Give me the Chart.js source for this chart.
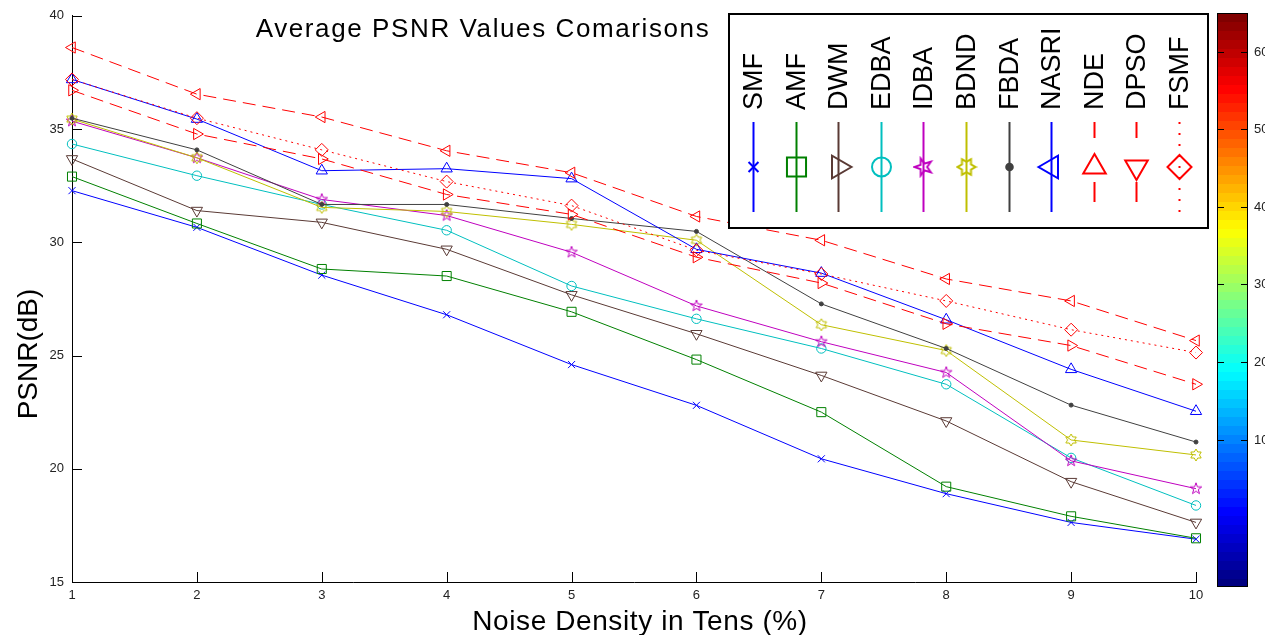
<!DOCTYPE html>
<html>
<head>
<meta charset="utf-8">
<script src="https://cdn.jsdelivr.net/npm/chart.js@4.4.1/dist/chart.umd.min.js"></script>
<style>
  html, body { margin: 0; padding: 0; background: #fff; }
</style>
</head>
<body>
<canvas id="psnr" width="1265" height="635"></canvas>
<script>
// Noise density steps (tens of %)
const densidades = ['1', '2', '3', '4', '5', '6', '7', '8', '9', '10'];
const ticksPSNR = [15, 20, 25, 30, 35, 40];
const ticksBarra = [10, 20, 30, 40, 50, 60];

// Average PSNR (dB) per filter
const smf   = [32.28, 30.66, 28.55, 26.80, 24.60, 22.80, 20.44, 18.90, 17.63, 16.89];
const amf   = [32.90, 30.83, 28.82, 28.51, 26.93, 24.82, 22.50, 19.21, 17.90, 16.93];
const dwm   = [33.68, 31.40, 30.88, 29.69, 27.68, 25.96, 24.12, 22.11, 19.43, 17.63];
const edba  = [34.34, 32.94, 31.67, 30.53, 28.07, 26.62, 25.31, 23.73, 20.48, 18.38];
const idba  = [35.35, 33.73, 31.89, 31.18, 29.56, 27.19, 25.61, 24.25, 20.35, 19.12];
const bdnd  = [35.44, 33.73, 31.54, 31.36, 30.79, 30.09, 26.36, 25.22, 21.27, 20.61];
const fbda  = [35.48, 34.08, 31.67, 31.67, 31.05, 30.48, 27.28, 25.31, 22.81, 21.18];
const nasri = [37.19, 35.44, 33.16, 33.25, 32.81, 29.69, 28.64, 26.58, 24.39, 22.54];
const nde   = [36.71, 34.78, 33.68, 32.11, 31.23, 29.34, 28.20, 26.40, 25.44, 23.73];
const dpso  = [38.60, 36.54, 35.53, 34.04, 33.07, 31.14, 30.09, 28.38, 27.41, 25.66];
const fsmf  = [37.19, 35.48, 34.08, 32.68, 31.62, 29.65, 28.60, 27.41, 26.14, 25.13];

const fuente = 'Liberation Sans, Arial, sans-serif';

// Outline star used as pentagram / hexagram marker
function estrella(puntas, interior, radio, color, grosor) {
    const lado = Math.ceil(radio * 2 + 4) + (Math.ceil(radio * 2 + 4) % 2);
    const c = document.createElement('canvas');
    c.width = lado;
    c.height = lado;
    const g = c.getContext('2d');
    g.strokeStyle = color;
    g.lineWidth = grosor;
    g.beginPath();
    for (let k = 0; k < puntas * 2; k++) {
        const r = k % 2 === 0 ? radio : radio * interior;
        const a = -Math.PI / 2 + k * Math.PI / puntas;
        const px = lado / 2 + r * Math.cos(a);
        const py = lado / 2 + r * Math.sin(a);
        if (k === 0) g.moveTo(px, py); else g.lineTo(px, py);
    }
    g.closePath();
    g.stroke();
    return c;
}

const discontinua = [13, 7];
const punteada = [2, 4];
const discontinuaLeyenda = [16, 44, 20, 100];

// Line and marker style of every filter
const series = [
    { label: 'SMF',   data: smf,   color: '#0000ff', style: 'crossRot', radius: 5,   legendRadius: 7 },
    { label: 'AMF',   data: amf,   color: '#008000', style: 'rect',     radius: 6.4, legendRadius: 13.5 },
    { label: 'DWM',   data: dwm,   color: '#5a3a35', style: 'triangle', rotation: 180, radius: 6.5, legendRadius: 13 },
    { label: 'EDBA',  data: edba,  color: '#00bfbf', style: 'circle',   radius: 4.7, legendRadius: 9.5 },
    { label: 'IDBA',  data: idba,  color: '#bf00bf',
      style: estrella(5, 0.4, 6, '#bf00bf', 1), legendStyle: estrella(5, 0.4, 9, '#bf00bf', 2) },
    { label: 'BDND',  data: bdnd,  color: '#bfbf00',
      style: estrella(6, 0.58, 6, '#bfbf00', 1), legendStyle: estrella(6, 0.58, 9, '#bfbf00', 2) },
    { label: 'FBDA',  data: fbda,  color: '#404040', style: 'circle',   radius: 2,   legendRadius: 3.3, fill: true },
    { label: 'NASRI', data: nasri, color: '#0000ff', style: 'triangle', rotation: 0,   radius: 6.5, legendRadius: 13 },
    { label: 'NDE',   data: nde,   color: '#ff0000', style: 'triangle', rotation: 90,  radius: 6.5, legendRadius: 13,
      dash: discontinua, legendDash: discontinuaLeyenda },
    { label: 'DPSO',  data: dpso,  color: '#ff0000', style: 'triangle', rotation: 270, radius: 6.5, legendRadius: 13,
      dash: discontinua, legendDash: discontinuaLeyenda },
    { label: 'FSMF',  data: fsmf,  color: '#ff0000', style: 'rectRot',  radius: 6.5, legendRadius: 12,
      dash: punteada, legendDash: [2, 9] }
];

// Jet colour map
function jet(t) {
    const f = v => Math.round(255 * Math.min(1, Math.max(0, v)));
    return `rgb(${f(1.5 - Math.abs(4 * t - 3))},${f(1.5 - Math.abs(4 * t - 2))},${f(1.5 - Math.abs(4 * t - 1))})`;
}

function linea(ctx, x1, y1, x2, y2) {
    ctx.beginPath();
    ctx.moveTo(x1, y1);
    ctx.lineTo(x2, y2);
    ctx.stroke();
}

// Titles, inward ticks, rotated legend and colour bar
const decoracion = {
    id: 'decoracion',
    afterDraw(chart) {
        const ctx = chart.ctx;
        const xs = chart.scales.x;
        const ys = chart.scales.y;
        ctx.save();

        // inward tick marks
        ctx.strokeStyle = '#000';
        ctx.lineWidth = 1;
        ys.ticks.forEach(t => {
            const y = Math.round(ys.getPixelForValue(t.value)) + 0.5;
            linea(ctx, xs.left, y, xs.left + 10, y);
        });
        densidades.forEach((d, i) => {
            const x = Math.round(xs.getPixelForValue(i)) + 0.5;
            linea(ctx, x, ys.bottom, x, ys.bottom - 10);
        });

        // titles
        ctx.fillStyle = '#000';
        ctx.textBaseline = 'alphabetic';
        ctx.textAlign = 'center';
        ctx.font = '26px ' + fuente;
        ctx.letterSpacing = '1.6px';
        ctx.fillText('Average PSNR Values Comarisons', 483, 37);
        ctx.font = '28px ' + fuente;
        ctx.letterSpacing = '0.6px';
        ctx.fillText('Noise Density in Tens (%)', 640, 630);
        ctx.letterSpacing = '0px';
        ctx.save();
        ctx.translate(37, 354);
        ctx.rotate(-Math.PI / 2);
        ctx.fillText('PSNR(dB)', 0, 0);
        ctx.restore();

        // legend box
        ctx.fillStyle = '#fff';
        ctx.fillRect(729, 14, 479, 214);
        ctx.strokeStyle = '#000';
        ctx.lineWidth = 2;
        ctx.strokeRect(729, 14, 479, 214);

        series.forEach((s, i) => {
            const cx = Math.round(753 + i * 42.6) + 0.5;
            ctx.strokeStyle = s.color;
            ctx.lineWidth = 2;
            ctx.setLineDash(s.legendDash || []);
            linea(ctx, cx, 122, cx, 212);
            ctx.setLineDash([]);
            ctx.fillStyle = s.fill ? s.color : 'rgba(0,0,0,0)';
            Chart.helpers.drawPoint(ctx, {
                pointStyle: s.legendStyle || s.style,
                rotation: (s.rotation || 0) - 90,
                radius: s.legendRadius || 9,
                borderWidth: 2
            }, cx, 167);
            ctx.save();
            ctx.translate(cx, 110);
            ctx.rotate(-Math.PI / 2);
            ctx.fillStyle = '#000';
            ctx.font = '27px ' + fuente;
            ctx.textAlign = 'left';
            ctx.textBaseline = 'middle';
            ctx.fillText(s.label, 0, 1);
            ctx.restore();
        });

        // colour bar
        const bx = 1217, bw = 31, top = 13, bottom = 587;
        const cMin = -9, cMax = 65;
        const n = 64;
        for (let k = 0; k < n; k++) {
            const y1 = bottom - (k + 1) * (bottom - top) / n;
            const y2 = bottom - k * (bottom - top) / n;
            ctx.fillStyle = jet(k / (n - 1));
            ctx.fillRect(bx, Math.floor(y1), bw, Math.ceil(y2) - Math.floor(y1));
        }
        ctx.strokeStyle = '#000';
        ctx.lineWidth = 1;
        ctx.strokeRect(bx + 0.5, top + 0.5, bw - 1, bottom - top - 1);
        ctx.fillStyle = '#222';
        ctx.font = '13px ' + fuente;
        ctx.textAlign = 'left';
        ctx.textBaseline = 'middle';
        ticksBarra.forEach(v => {
            const y = Math.round(bottom - (v - cMin) / (cMax - cMin) * (bottom - top)) + 0.5;
            linea(ctx, bx, y, bx + 7, y);
            linea(ctx, bx + bw - 7, y, bx + bw, y);
            ctx.fillText(String(v), 1254, y);
        });

        ctx.restore();
    }
};

new Chart(document.getElementById('psnr'), {
    type: 'line',
    data: {
        labels: densidades,
        datasets: series.map((s, i) => ({
            label: s.label,
            data: s.data,
            borderColor: s.color,
            borderWidth: 1,
            borderDash: s.dash || [],
            pointStyle: s.style,
            pointRotation: s.rotation || 0,
            pointRadius: s.radius || 6,
            pointBorderColor: s.color,
            pointBackgroundColor: s.fill ? s.color : 'rgba(0,0,0,0)',
            pointBorderWidth: 1,
            tension: 0,
            fill: false,
            clip: false,
            order: series.length - i
        }))
    },
    options: {
        responsive: false,
        animation: false,
        events: [],
        layout: { padding: { left: 0, right: 69, top: 12, bottom: 0 } },
        plugins: {
            legend: { display: false },
            title: { display: false },
            tooltip: { enabled: false }
        },
        scales: {
            x: {
                grid: { display: false, drawTicks: false },
                border: { display: true, color: '#000', width: 1 },
                ticks: {
                    color: '#222',
                    font: { family: fuente, size: 13 },
                    padding: 6,
                    maxRotation: 0,
                    autoSkip: false
                },
                afterFit: s => { s.height = 53; }
            },
            y: {
                min: 15,
                max: 40,
                grid: { display: false, drawTicks: false },
                border: { display: true, color: '#000', width: 1 },
                afterBuildTicks: s => { s.ticks = ticksPSNR.map(v => ({ value: v })); },
                ticks: {
                    color: '#222',
                    font: { family: fuente, size: 13 },
                    padding: 8
                },
                afterFit: s => { s.width = 72; }
            }
        }
    },
    plugins: [decoracion]
});
</script>
</body>
</html>
